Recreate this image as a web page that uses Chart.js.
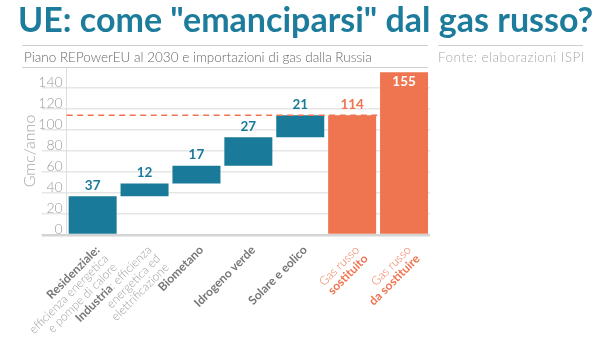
<!DOCTYPE html>
<html>
<head>
<meta charset="utf-8">
<script src="https://cdn.jsdelivr.net/npm/chart.js@4.4.1/dist/chart.umd.min.js"></script>
<style>
  body { margin: 0; background: #fff; font-family: Lato, "Open Sans", sans-serif; }
  #wrap { position: relative; width: 600px; height: 337px; overflow: hidden; }
  #chart { position: absolute; left: 0; top: 0; }
  .head { position: absolute; white-space: nowrap; }
  #title { left: 18px; top: 2px; font-size: 34px; line-height: 34px; font-weight: 700; color: #1d7c9c; }
  #sub { left: 24px; top: 50px; font-size: 13.5px; line-height: 14px; font-weight: 300; color: #666; }
  #src { left: 438px; top: 50px; font-size: 13.5px; line-height: 14px; font-weight: 300; color: #aaa; letter-spacing: 0.45px; }
  .rule { position: absolute; height: 1px; background: #cfcfcf; }
</style>
</head>
<body>
<div id="wrap">
  <canvas id="chart" width="600" height="337"></canvas>
  <div class="head" id="title">UE: come "emanciparsi" dal gas russo?</div>
  <div class="rule" style="left:22px; top:45px; width:406px;"></div>
  <div class="rule" style="left:438px; top:45px; width:145px;"></div>
  <div class="rule" style="left:22px; top:67px; width:406px;"></div>
  <div class="head" id="sub">Piano REPowerEU al 2030 e importazioni di gas dalla Russia</div>
  <div class="head" id="src">Fonte: elaborazioni ISPI</div>
</div>
<script>
// categories (short keys) and values, Gmc/anno
const categories = ["Residenziale", "Industria", "Biometano", "Idrogeno verde", "Solare e eolico", "Gas russo sostituito", "Gas russo da sostituire"];
const savings = [37, 12, 17, 27, 21];      // contributo di ciascuna misura
const gasReplaced = 114;                    // gas russo sostituito
const gasToReplace = 155;                   // gas russo da sostituire
const yTicks = [0, 20, 40, 60, 80, 100, 120, 140];

// axis labels, one array of [text, bold] pieces per line
const xLabelLines = [
  [[["Residenziale:", true]], [["efficienza energetica", false]], [["e pompe di calore", false]]],
  [[["Industria", true], [": efficienza", false]], [["energetica ed", false]], [["elettrificazione", false]]],
  [[["Biometano", true]]],
  [[["Idrogeno verde", true]]],
  [[["Solare e eolico", true]]],
  [[["Gas russo", false]], [["sostituito", true]]],
  [[["Gas russo", false]], [["da sostituire", true]]]
];

const TEAL = "#1a7a9a";
const ORANGE = "#ef7450";

// waterfall: each measure floats on top of the previous ones
const floating = [];
let run = 0;
savings.forEach(v => { floating.push([run, run + v]); run += v; });
floating.push([0, gasReplaced]);
floating.push([0, gasToReplace]);
const shown = savings.concat([gasReplaced, gasToReplace]);
const barColors = categories.map((c, i) => i < savings.length ? TEAL : ORANGE);

const extras = {
  id: "extras",
  afterDatasetsDraw(chart) {
    const ctx = chart.ctx;
    const xs = chart.scales.x, ys = chart.scales.y;
    const meta = chart.getDatasetMeta(0);

    // dashed reference line at the replaced gas level
    const yRef = ys.getPixelForValue(gasReplaced);
    const xEnd = (xs.getPixelForValue(5) + xs.getPixelForValue(6)) / 2;
    ctx.save();
    ctx.strokeStyle = ORANGE;
    ctx.lineWidth = 1.5;
    ctx.setLineDash([6, 4.5]);
    ctx.beginPath();
    ctx.moveTo(chart.chartArea.left, yRef);
    ctx.lineTo(xEnd, yRef);
    ctx.stroke();
    ctx.restore();

    // value labels
    ctx.save();
    ctx.font = "bold 13.5px Lato";
    ctx.textAlign = "center";
    ctx.textBaseline = "middle";
    meta.data.forEach((bar, i) => {
      const top = Math.min(bar.y, bar.base);
      if (i === 6) {
        ctx.fillStyle = "#fff";
        ctx.fillText(shown[i], bar.x, top + 9);
      } else {
        ctx.fillStyle = i < savings.length ? TEAL : ORANGE;
        ctx.fillText(shown[i], bar.x, top - 11);
      }
    });
    ctx.restore();
  },
  afterDraw(chart) {
    // rotated category labels with bold / light pieces
    const ctx = chart.ctx;
    const xs = chart.scales.x;
    ctx.save();
    ctx.textBaseline = "middle";
    ctx.textAlign = "left";
    xLabelLines.forEach((lines, i) => {
      const orange = i >= savings.length;
      ctx.save();
      ctx.translate(xs.getPixelForValue(i) + 5, xs.bottom + 13);
      ctx.rotate(-Math.PI / 4);
      lines.forEach((segs, li) => {
        const fonts = segs.map(s => (s[1] ? "bold" : "300") + " 12px Lato");
        let total = 0;
        segs.forEach((s, k) => { ctx.font = fonts[k]; total += ctx.measureText(s[0]).width; });
        let cx = -total;
        segs.forEach((s, k) => {
          ctx.font = fonts[k];
          ctx.fillStyle = orange ? ORANGE : (s[1] ? "#777" : "#a0a0a0");
          ctx.fillText(s[0], cx, li * 12.3);
          cx += ctx.measureText(s[0]).width;
        });
      });
      ctx.restore();
    });
    ctx.restore();
  }
};

new Chart(document.getElementById("chart"), {
  type: "bar",
  data: {
    labels: categories,
    datasets: [{
      data: floating,
      backgroundColor: barColors,
      borderSkipped: false,
      barPercentage: 0.925,
      categoryPercentage: 1
    }]
  },
  options: {
    responsive: false,
    animation: false,
    layout: { padding: { left: 20, top: 67, right: 170, bottom: 102 } },
    plugins: { legend: { display: false }, tooltip: { enabled: false } },
    scales: {
      x: {
        grid: { display: false, drawTicks: false },
        border: { display: false },
        ticks: { display: false }
      },
      y: {
        min: 0,
        max: 160,
        afterBuildTicks(scale) {
          scale.ticks = yTicks.concat([160]).map(v => ({ value: v }));
        },
        afterFit(scale) { scale.width = 46.7; },
        grid: {
          drawTicks: true,
          tickLength: 25,
          color: ctx => ctx.tick.value === 160 ? "rgba(0,0,0,0)" : (ctx.tick.value === 0 ? "#d4d4d4" : "#e6e6e6"),
          lineWidth: ctx => ctx.tick.value === 0 ? 2.5 : 1.5
        },
        border: { display: true, color: "#dddddd", width: 1 },
        ticks: {
          padding: -21,
          labelOffset: -6,
          color: "#9a9a9a",
          font: { family: "Lato", size: 14, weight: "300" },
          callback: v => yTicks.includes(v) ? v : ""
        },
        title: {
          display: true,
          text: "Gmc/anno",
          color: "#a5a5a5",
          padding: 0,
          font: { family: "Lato", size: 16, weight: "300" }
        }
      }
    }
  },
  plugins: [extras]
});
</script>
</body>
</html>
